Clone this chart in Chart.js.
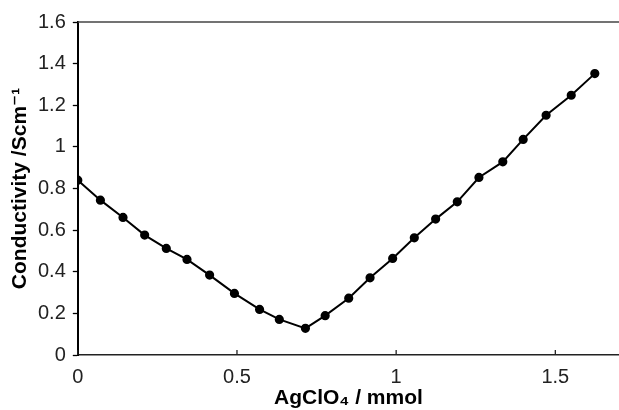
<!DOCTYPE html>
<html>
<head>
<meta charset="utf-8">
<script src="https://cdn.jsdelivr.net/npm/chart.js@4.4.1/dist/chart.umd.min.js"></script>
<style>
html,body{margin:0;padding:0;background:#fff;}
canvas{display:block;}
</style>
</head>
<body>
<canvas id="c" width="619" height="410"></canvas>
<script>
const amountAgClO4 = [0, 0.071, 0.142, 0.210, 0.278, 0.343, 0.414, 0.492, 0.571, 0.633, 0.715, 0.777, 0.851, 0.918, 0.989, 1.057, 1.124, 1.192, 1.260, 1.335, 1.399, 1.471, 1.550, 1.624];
const conductivity = [0.840, 0.744, 0.661, 0.576, 0.512, 0.459, 0.384, 0.296, 0.219, 0.171, 0.128, 0.189, 0.273, 0.371, 0.464, 0.563, 0.653, 0.736, 0.853, 0.928, 1.036, 1.152, 1.248, 1.352];
const xTickValues = [0, 0.5, 1, 1.5];
const yTickValues = [0, 0.2, 0.4, 0.6, 0.8, 1, 1.2, 1.4, 1.6];
const xTitle = 'AgClO\u2084 / mmol';
const yTitle = 'Conductivity /Scm\u207B\u00B9';

const points = amountAgClO4.map((x, i) => ({x: x, y: conductivity[i]}));
const FONT = 'Liberation Sans, Arial, DejaVu Sans';
const fmt = v => String(+Number(v).toFixed(2));

const frame = {
  id: 'frame',
  afterDraw(chart) {
    const {ctx, chartArea, scales} = chart;
    ctx.save();
    ctx.strokeStyle = '#444';
    ctx.lineWidth = 1.6;
    ctx.beginPath();
    ctx.moveTo(chartArea.left, chartArea.top);
    ctx.lineTo(chart.width, chartArea.top);
    ctx.stroke();
    ctx.strokeStyle = '#222';
    ctx.lineWidth = 1.3;
    scales.x.ticks.forEach(t => {
      const px = scales.x.getPixelForValue(t.value);
      ctx.beginPath();
      ctx.moveTo(px, chartArea.bottom);
      ctx.lineTo(px, chartArea.bottom - 5);
      ctx.stroke();
    });
    ctx.restore();
  }
};

new Chart(document.getElementById('c'), {
  type: 'scatter',
  data: {
    datasets: [{
      data: points,
      showLine: true,
      borderColor: '#000',
      backgroundColor: '#000',
      borderWidth: 2,
      pointRadius: 3.6,
      pointHoverRadius: 3.6,
      tension: 0
    }]
  },
  options: {
    responsive: false,
    animation: false,
    layout: {autoPadding: false, padding: {top: 22, right: 0, bottom: 0, left: 10}},
    plugins: {legend: {display: false}, tooltip: {enabled: false}},
    scales: {
      x: {
        type: 'linear',
        min: 0, max: 1.7,
        afterBuildTicks: s => { s.ticks = xTickValues.map(v => ({value: v})); },
        afterFit: s => { s.height = 55; },
        ticks: {callback: fmt, color: '#222', padding: 10,
                font: {family: FONT, size: 20}},
        grid: {display: false, drawTicks: false},
        border: {display: true, color: '#222', width: 1.5},
        title: {display: true, text: xTitle, color: '#000', padding: {top: 0, bottom: 1},
                font: {family: FONT, size: 21, weight: 'bold', lineHeight: 1}}
      },
      y: {
        min: 0, max: 1.6,
        afterBuildTicks: s => { s.ticks = yTickValues.map(v => ({value: v})); },
        ticks: {callback: fmt, color: '#222', padding: 7,
                font: {family: FONT, size: 20}},
        grid: {drawOnChartArea: false, drawTicks: true, tickLength: 5, color: '#000', tickWidth: 1.3},
        border: {display: true, color: '#000', width: 2},
        title: {display: true, text: yTitle, color: '#000', padding: {top: 0, bottom: 0},
                font: {family: FONT, size: 21, weight: 'bold', lineHeight: 1}}
      }
    }
  },
  plugins: [frame]
});
</script>
</body>
</html>
